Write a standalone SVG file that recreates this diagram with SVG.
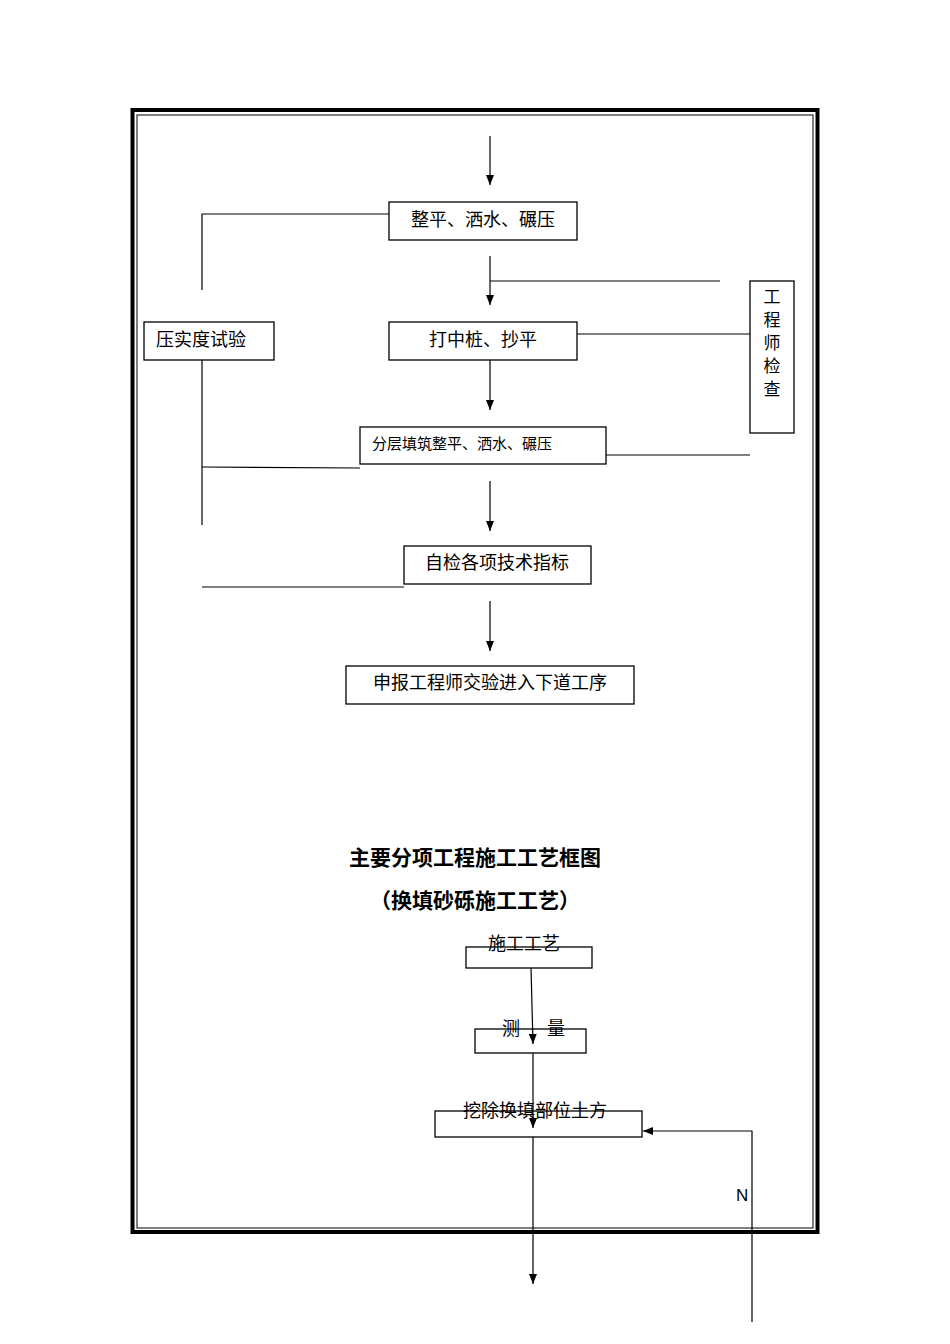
<svg xmlns="http://www.w3.org/2000/svg" width="950" height="1344" viewBox="0 0 950 1344">
<style>
.b{fill:none;stroke:#000;stroke-width:1.3}
.l{fill:none;stroke:#000;stroke-width:1.2}
.t{font-family:"Noto Sans CJK SC","Liberation Serif",serif;font-size:18px;fill:#000}
.v{font-family:"Noto Sans CJK SC",sans-serif;font-size:17px;fill:#000}
.h{font-family:"Noto Sans CJK SC",sans-serif;font-size:21px;font-weight:bold;fill:#000}
</style>
<defs><marker id="a" markerWidth="11" markerHeight="10" refX="10" refY="5" orient="auto" markerUnits="userSpaceOnUse"><path d="M0,1 L10,5 L0,9 Z" fill="#000"/></marker></defs>
<rect x="0" y="0" width="950" height="1344" fill="#fff"/>
<g id="frame">
<rect x="132.5" y="110" width="685" height="1122" fill="none" stroke="#000" stroke-width="4"/>
<rect x="137" y="115" width="676" height="1113" fill="none" stroke="#000" stroke-width="1"/>
</g>
<g id="connectors">
<line class="l" x1="490" y1="136" x2="490" y2="185" marker-end="url(#a)"/>
<line class="l" x1="490" y1="256" x2="490" y2="305" marker-end="url(#a)"/>
<line class="l" x1="490" y1="281" x2="720" y2="281"/>
<line class="l" x1="577" y1="334" x2="750" y2="334"/>
<line class="l" x1="490" y1="360" x2="490" y2="410" marker-end="url(#a)"/>
<line class="l" x1="606" y1="455" x2="750" y2="455"/>
<line class="l" x1="490" y1="481" x2="490" y2="531" marker-end="url(#a)"/>
<line class="l" x1="490" y1="601" x2="490" y2="651" marker-end="url(#a)"/>
<polyline class="l" points="389,214 202,214 202,290"/>
<line class="l" x1="202" y1="360" x2="202" y2="525"/>
<line class="l" x1="202" y1="467" x2="360" y2="468"/>
<line class="l" x1="202" y1="587" x2="404" y2="587"/>
<line class="l" x1="531" y1="968" x2="533" y2="1044" marker-end="url(#a)"/>
<line class="l" x1="533" y1="1053" x2="533" y2="1128" marker-end="url(#a)"/>
<line class="l" x1="533" y1="1137" x2="533" y2="1284" marker-end="url(#a)"/>
<polyline class="l" points="752,1322 752,1131 643,1131" marker-end="url(#a)"/>
</g>
<g id="n1"><rect class="b" x="389" y="202" width="188" height="38"/><text class="t" x="483" y="226" text-anchor="middle">整平、洒水、碾压</text></g>
<g id="n2"><rect class="b" x="144" y="322" width="130" height="38"/><text class="t" x="156" y="346">压实度试验</text></g>
<g id="n3"><rect class="b" x="389" y="322" width="188" height="38"/><text class="t" x="483" y="346" text-anchor="middle">打中桩、抄平</text></g>
<g id="n4"><rect class="b" x="750" y="281" width="44" height="152"/><text class="v" x="772" y="303" text-anchor="middle">工</text><text class="v" x="772" y="326" text-anchor="middle">程</text><text class="v" x="772" y="349" text-anchor="middle">师</text><text class="v" x="772" y="372" text-anchor="middle">检</text><text class="v" x="772" y="395" text-anchor="middle">查</text></g>
<g id="n5"><rect class="b" x="360" y="427" width="246" height="37"/><text class="t" x="372" y="449" style="font-size:15px">分层填筑整平、洒水、碾压</text></g>
<g id="n6"><rect class="b" x="404" y="546" width="187" height="38"/><text class="t" x="497" y="569" text-anchor="middle">自检各项技术指标</text></g>
<g id="n7"><rect class="b" x="346" y="666" width="288" height="38"/><text class="t" x="490" y="689" text-anchor="middle">申报工程师交验进入下道工序</text></g>
<g id="title"><text class="h" x="475" y="865" text-anchor="middle">主要分项工程施工工艺框图</text><text class="h" x="475" y="908" text-anchor="middle">（换填砂砾施工工艺）</text></g>
<g id="m1"><rect class="b" x="466" y="947" width="126" height="21"/><text class="t" x="524" y="950" text-anchor="middle">施工工艺</text></g>
<g id="m2"><rect class="b" x="475" y="1029" width="111" height="24"/><text class="t" x="502" y="1035">测</text><text class="t" x="547" y="1035">量</text></g>
<g id="m3"><rect class="b" x="435" y="1111" width="207" height="26"/><text class="t" x="535" y="1117" text-anchor="middle">挖除换填部位土方</text></g>
<text x="736" y="1201" font-family="Liberation Sans,sans-serif" font-size="17" fill="#000">N</text>
</svg>
